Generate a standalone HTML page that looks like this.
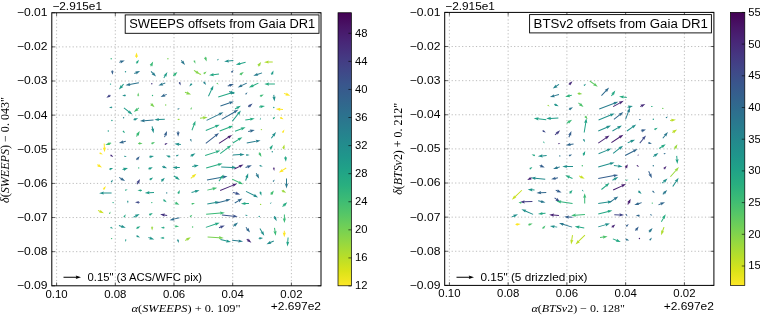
<!DOCTYPE html>
<html><head><meta charset="utf-8"><title>offsets</title>
<style>html,body{margin:0;padding:0;background:#fff;}body{width:760px;height:315px;overflow:hidden;}svg{display:block;will-change:transform;font-family:"Liberation Sans",sans-serif;}.m{font-family:"Liberation Serif",serif;}</style></head><body>
<svg width="760" height="315" viewBox="0 0 760 315">
<defs><linearGradient id="vg" x1="0" y1="0" x2="0" y2="1">
<stop offset="0.0000" stop-color="#440154"/>
<stop offset="0.0526" stop-color="#481567"/>
<stop offset="0.1053" stop-color="#482677"/>
<stop offset="0.1579" stop-color="#453781"/>
<stop offset="0.2105" stop-color="#404788"/>
<stop offset="0.2632" stop-color="#39568c"/>
<stop offset="0.3158" stop-color="#33638d"/>
<stop offset="0.3684" stop-color="#2d708e"/>
<stop offset="0.4211" stop-color="#287d8e"/>
<stop offset="0.4737" stop-color="#238a8d"/>
<stop offset="0.5263" stop-color="#1f968b"/>
<stop offset="0.5789" stop-color="#20a387"/>
<stop offset="0.6316" stop-color="#29af7f"/>
<stop offset="0.6842" stop-color="#3cbb75"/>
<stop offset="0.7368" stop-color="#55c667"/>
<stop offset="0.7895" stop-color="#73d055"/>
<stop offset="0.8421" stop-color="#95d840"/>
<stop offset="0.8947" stop-color="#b8de29"/>
<stop offset="0.9474" stop-color="#dce319"/>
<stop offset="1.0000" stop-color="#fde725"/>
</linearGradient></defs>
<rect width="760" height="315" fill="#fff"/>
<path d="M56.60 12.75V285.8M115.30 12.75V285.8M174.00 12.75V285.8M232.70 12.75V285.8M291.40 12.75V285.8M51.8 46.88H321.0M51.8 81.01H321.0M51.8 115.14H321.0M51.8 149.28H321.0M51.8 183.41H321.0M51.8 217.54H321.0M51.8 251.67H321.0" stroke="#6a6a6a" stroke-width="0.45" stroke-dasharray="1.2 2.27" fill="none"/>
<g><circle cx="111.2" cy="58.7" r="0.7" fill="#30b37c"/>
<polygon points="119.4,62.8 121.0,62.3 120.7,63.5 124.8,60.5 119.7,60.5 120.6,61.3 119.1,61.9" fill="#2f6b8e"/>
<polygon points="137.0,57.8 137.0,56.5 138.1,57.1 136.5,52.4 134.9,57.1 136.0,56.5 136.0,57.8" fill="#fde725"/>
<polygon points="136.9,63.7 137.5,62.7 137.8,63.7 138.9,59.7 135.6,62.2 136.7,62.2 136.0,63.1" fill="#24a884"/>
<polygon points="151.1,66.5 151.7,65.4 152.4,66.4 153.1,61.6 149.6,64.9 150.8,64.9 150.2,66.1" fill="#3aba76"/>
<circle cx="167.9" cy="58.7" r="0.7" fill="#7ad251"/>
<polygon points="180.9,60.8 182.0,62.1 180.7,62.3 185.0,65.1 183.3,60.4 182.8,61.5 181.7,60.1" fill="#2a788e"/>
<polygon points="193.6,60.7 193.9,61.5 193.2,61.1 195.5,63.7 195.1,60.3 194.8,61.0 194.5,60.2" fill="#4dc26b"/>
<polygon points="111.7,70.4 111.8,71.5 110.9,71.0 112.6,74.8 113.6,70.8 112.8,71.4 112.7,70.3" fill="#355f8d"/>
<circle cx="125.5" cy="71.7" r="0.7" fill="#21908c"/>
<polygon points="134.5,74.1 136.5,73.2 136.4,74.4 140.1,71.0 135.1,71.5 136.1,72.2 134.1,73.1" fill="#2a788e"/>
<polygon points="150.7,71.8 152.7,73.9 151.5,74.2 156.0,76.5 153.8,72.0 153.5,73.2 151.4,71.1" fill="#287d8e"/>
<polygon points="164.2,78.2 165.6,76.0 166.2,77.1 167.4,72.1 163.5,75.4 164.8,75.4 163.4,77.7" fill="#1f9c89"/>
<polygon points="173.6,76.2 174.6,75.3 174.9,76.5 177.4,72.1 172.8,74.1 174.0,74.5 172.9,75.4" fill="#30b37c"/>
<polygon points="193.7,70.8 196.2,72.4 195.1,73.0 200.0,74.3 196.9,70.4 196.8,71.6 194.3,70.0" fill="#87d549"/>
<polygon points="204.6,56.9 205.0,58.1 203.9,57.9 206.6,61.6 206.7,57.0 206.0,57.9 205.6,56.7" fill="#4dc26b"/>
<polygon points="217.6,60.5 218.0,60.2 217.7,60.7 219.0,58.7 216.8,59.7 217.4,59.4 216.9,59.8" fill="#21908c"/>
<polygon points="233.3,60.0 228.2,60.5 228.7,59.4 224.1,61.5 229.1,62.5 228.3,61.5 233.4,60.9" fill="#21908c"/>
<polygon points="245.5,61.7 239.7,63.3 240.0,62.0 235.8,64.8 240.8,65.1 240.0,64.2 245.7,62.7" fill="#20a387"/>
<polygon points="258.6,66.6 259.3,65.5 259.9,66.6 261.1,61.9 257.2,64.8 258.5,64.9 257.7,66.0" fill="#9ad93d"/>
<polygon points="272.7,61.4 268.2,61.6 268.7,60.4 264.0,62.2 268.8,63.6 268.2,62.6 272.8,62.4" fill="#aedc2f"/>
<polygon points="199.0,74.0 199.5,74.4 198.8,74.3 201.5,75.3 199.9,73.0 200.1,73.6 199.6,73.2" fill="#9ad93d"/>
<polygon points="204.0,74.3 204.7,73.7 204.7,74.5 206.6,71.4 203.2,72.8 204.1,72.9 203.3,73.5" fill="#6ece58"/>
<polygon points="218.9,73.4 213.1,74.2 213.6,73.1 209.1,75.3 214.0,76.2 213.3,75.2 219.1,74.4" fill="#24a884"/>
<polygon points="231.8,72.8 232.3,72.1 232.3,72.9 233.6,70.0 230.8,71.6 231.6,71.5 231.0,72.1" fill="#355f8d"/>
<polygon points="240.0,75.2 241.0,74.5 241.0,75.7 243.8,72.1 239.5,73.2 240.5,73.7 239.5,74.3" fill="#4dc26b"/>
<polygon points="261.9,72.4 257.1,74.0 257.4,72.8 253.3,75.8 258.4,75.8 257.5,74.9 262.2,73.3" fill="#287d8e"/>
<polygon points="272.0,75.0 272.5,73.9 273.1,74.8 273.5,70.4 270.5,73.7 271.6,73.5 271.1,74.6" fill="#1f9c89"/>
<circle cx="110.5" cy="84.1" r="0.7" fill="#1f9c89"/>
<polygon points="123.2,83.8 121.3,85.9 120.9,84.7 118.9,89.4 123.3,86.9 122.1,86.6 124.0,84.5" fill="#1f9c89"/>
<polygon points="138.8,82.2 129.5,84.0 129.9,82.8 125.5,85.3 130.5,85.9 129.7,85.0 139.0,83.2" fill="#2c738e"/>
<circle cx="151.8" cy="83.8" r="0.7" fill="#453480"/>
<polygon points="165.1,82.6 162.1,83.7 162.3,82.5 158.4,85.6 163.4,85.5 162.5,84.6 165.4,83.6" fill="#2a788e"/>
<polygon points="178.9,82.2 179.2,83.1 178.5,82.7 180.6,85.6 180.6,82.0 180.2,82.8 179.9,81.9" fill="#3f4a89"/>
<polygon points="191.6,83.2 190.9,83.9 190.8,83.0 189.3,86.5 192.6,84.6 191.7,84.6 192.3,83.9" fill="#21908c"/>
<polygon points="110.2,94.8 109.2,95.4 109.2,94.3 106.4,97.7 110.7,96.8 109.7,96.3 110.7,95.7" fill="#414487"/>
<polygon points="125.7,94.7 124.8,94.9 125.3,94.2 122.1,95.8 125.6,96.4 125.0,95.9 125.9,95.7" fill="#21908c"/>
<polygon points="138.7,96.3 138.7,95.3 139.3,95.9 138.2,92.6 137.1,95.9 137.7,95.3 137.7,96.3" fill="#5cc862"/>
<circle cx="152.5" cy="95.5" r="0.7" fill="#30b37c"/>
<polygon points="166.5,93.9 164.2,94.9 164.3,93.6 160.6,97.0 165.6,96.6 164.6,95.8 166.9,94.8" fill="#31678d"/>
<polygon points="184.8,92.8 187.0,93.5 186.0,94.4 191.1,94.4 187.0,91.3 187.3,92.6 185.1,91.8" fill="#87d549"/>
<polygon points="112.1,106.7 111.3,106.8 111.9,106.3 109.0,107.7 112.1,108.2 111.5,107.8 112.3,107.7" fill="#21908c"/>
<polygon points="123.6,108.3 128.7,112.3 127.6,112.8 132.4,114.5 129.6,110.3 129.4,111.6 124.2,107.6" fill="#1f9c89"/>
<polygon points="138.6,107.6 136.9,108.9 136.7,107.7 133.8,111.9 138.6,110.2 137.5,109.7 139.2,108.3" fill="#43be71"/>
<polygon points="150.3,103.9 151.3,104.8 150.1,105.2 154.6,107.2 152.3,102.9 152.0,104.1 151.0,103.2" fill="#7ad251"/>
<circle cx="165.7" cy="105.0" r="0.7" fill="#7ad251"/>
<polygon points="177.9,109.8 178.5,109.5 178.1,110.0 179.8,108.0 177.3,108.7 177.9,108.6 177.4,109.0" fill="#2a788e"/>
<polygon points="191.3,109.6 191.5,109.0 191.6,109.7 191.8,106.9 190.1,109.0 190.6,108.6 190.3,109.2" fill="#5cc862"/>
<polygon points="203.2,81.9 203.9,82.8 202.9,82.8 206.1,85.0 204.9,81.3 204.7,82.2 204.1,81.4" fill="#25848d"/>
<polygon points="216.5,83.5 217.0,83.9 216.4,83.7 218.7,84.6 217.2,82.5 217.6,83.1 217.1,82.7" fill="#5cc862"/>
<polygon points="227.9,86.5 230.0,85.9 229.8,87.1 233.9,84.1 228.8,84.0 229.7,84.9 227.6,85.6" fill="#355f8d"/>
<polygon points="246.5,82.7 241.3,85.2 241.3,84.0 237.7,87.5 242.7,86.8 241.7,86.1 247.0,83.6" fill="#2c738e"/>
<polygon points="258.2,82.7 252.5,85.3 252.6,84.0 248.9,87.5 254.0,86.9 253.0,86.2 258.6,83.6" fill="#27ac81"/>
<polygon points="274.9,83.6 268.5,83.6 269.1,82.5 264.3,84.1 269.1,85.7 268.5,84.6 274.9,84.6" fill="#27ac81"/>
<polygon points="208.9,96.5 212.1,89.6 212.9,90.6 213.4,85.6 210.0,89.3 211.2,89.2 208.0,96.0" fill="#1f9c89"/>
<polygon points="218.4,97.5 231.2,93.6 230.9,94.8 235.1,91.9 230.0,91.7 230.9,92.6 218.1,96.5" fill="#24a884"/>
<polygon points="229.0,91.9 230.8,92.7 229.7,93.5 234.8,94.1 231.1,90.6 231.2,91.8 229.4,91.0" fill="#238b8d"/>
<polygon points="246.0,94.7 246.4,94.1 246.3,94.8 247.5,92.2 245.0,93.7 245.7,93.5 245.2,94.0" fill="#2f6b8e"/>
<polygon points="260.1,96.7 261.1,96.2 260.9,97.2 263.8,94.4 259.8,94.9 260.7,95.3 259.7,95.8" fill="#3aba76"/>
<polygon points="273.3,94.9 273.5,97.3 272.4,96.8 274.5,101.4 275.6,96.4 274.5,97.1 274.3,94.7" fill="#21908c"/>
<polygon points="283.8,93.8 286.2,94.7 285.2,95.5 290.3,95.8 286.4,92.6 286.6,93.8 284.2,92.9" fill="#fde725"/>
<polygon points="220.6,106.5 230.1,103.2 229.9,104.5 233.9,101.4 228.8,101.4 229.8,102.3 220.3,105.6" fill="#2f6b8e"/>
<polygon points="235.3,109.4 237.5,108.2 237.5,109.5 240.9,105.8 235.9,106.7 237.0,107.3 234.8,108.5" fill="#20a387"/>
<polygon points="248.5,107.3 249.6,106.5 249.8,107.7 252.6,103.6 247.9,105.2 249.0,105.7 247.9,106.5" fill="#3b528b"/>
<polygon points="259.2,107.4 260.9,107.2 260.5,108.3 265.0,106.0 260.0,105.2 260.8,106.2 259.1,106.4" fill="#27ac81"/>
<circle cx="273.8" cy="107.5" r="0.7" fill="#1f9c89"/>
<polygon points="283.0,108.9 279.9,108.8 280.5,107.7 275.7,109.1 280.4,110.9 279.9,109.8 283.0,109.9" fill="#fde725"/>
<polygon points="200.1,118.7 203.5,118.2 203.1,119.4 207.6,117.2 202.6,116.2 203.4,117.2 199.9,117.7" fill="#9ad93d"/>
<polygon points="206.8,120.8 219.8,114.6 219.7,115.8 223.4,112.3 218.3,113.0 219.4,113.7 206.4,119.9" fill="#2a788e"/>
<polygon points="221.9,119.8 234.9,112.4 234.9,113.6 238.3,109.8 233.3,110.8 234.4,111.5 221.4,118.9" fill="#31678d"/>
<polygon points="232.8,121.4 238.7,114.0 239.2,115.2 240.9,110.4 236.7,113.2 237.9,113.4 232.0,120.8" fill="#1f9c89"/>
<polygon points="245.4,120.6 250.7,119.7 250.3,120.8 254.8,118.5 249.8,117.7 250.6,118.7 245.2,119.6" fill="#27ac81"/>
<polygon points="260.8,119.6 260.8,119.1 261.0,119.7 260.3,117.4 259.7,119.7 259.8,119.1 259.8,119.6" fill="#1f9c89"/>
<polygon points="273.4,119.3 274.0,118.7 273.8,119.4 275.2,116.7 272.5,118.1 273.2,118.0 272.7,118.6" fill="#24a884"/>
<polygon points="279.8,117.9 280.7,118.3 279.9,118.7 283.6,119.2 280.9,116.6 281.2,117.4 280.3,117.0" fill="#fde725"/>
<circle cx="111.9" cy="120.5" r="0.7" fill="#1f9c89"/>
<circle cx="123.6" cy="117.8" r="0.7" fill="#25848d"/>
<polygon points="133.7,120.2 134.9,119.9 134.6,121.0 138.2,118.3 133.7,118.2 134.6,118.9 133.4,119.3" fill="#21908c"/>
<polygon points="153.5,119.5 144.1,120.2 144.6,119.1 140.0,121.1 144.9,122.3 144.2,121.2 153.6,120.5" fill="#2c738e"/>
<polygon points="164.8,118.8 158.5,119.1 159.0,117.9 154.3,119.7 159.1,121.1 158.5,120.1 164.8,119.8" fill="#21908c"/>
<polygon points="177.8,120.1 178.4,119.9 177.9,120.4 180.3,119.0 177.6,118.8 178.2,119.0 177.6,119.1" fill="#9ad93d"/>
<polygon points="192.4,130.4 194.5,124.9 195.3,125.8 195.5,120.8 192.3,124.7 193.6,124.5 191.5,130.1" fill="#27ac81"/>
<circle cx="108.3" cy="131.0" r="0.7" fill="#1f9c89"/>
<polygon points="122.6,131.4 123.2,131.9 122.4,131.8 125.3,132.9 123.6,130.4 123.8,131.1 123.2,130.6" fill="#24a884"/>
<polygon points="136.9,136.8 138.0,134.9 138.7,135.9 139.7,131.0 135.9,134.3 137.1,134.4 136.0,136.3" fill="#3aba76"/>
<polygon points="151.6,126.4 152.2,129.2 151.0,128.8 153.6,133.2 154.1,128.2 153.2,129.0 152.6,126.2" fill="#21908c"/>
<polygon points="165.0,137.3 165.9,135.1 166.7,136.0 167.0,131.0 163.7,134.8 165.0,134.7 164.0,136.9" fill="#355f8d"/>
<polygon points="177.6,131.3 177.6,132.7 176.5,132.1 178.1,136.8 179.7,132.1 178.6,132.7 178.6,131.3" fill="#355f8d"/>
<polygon points="103.7,143.4 103.9,148.0 102.8,147.5 104.6,152.2 106.0,147.3 104.9,148.0 104.7,143.4" fill="#fde725"/>
<polygon points="111.0,142.5 109.2,143.1 109.4,141.9 105.3,144.9 110.4,144.9 109.5,144.0 111.3,143.4" fill="#43be71"/>
<polygon points="125.7,140.7 122.8,141.5 123.1,140.3 118.9,143.1 124.0,143.4 123.1,142.5 125.9,141.7" fill="#31678d"/>
<polygon points="138.2,143.9 139.3,143.9 138.7,144.7 142.6,143.4 138.7,142.1 139.3,142.9 138.2,142.9" fill="#5cc862"/>
<polygon points="151.6,144.3 152.5,143.8 152.3,144.7 155.0,141.9 151.2,142.6 152.0,142.9 151.1,143.4" fill="#4dc26b"/>
<polygon points="165.0,144.9 165.8,144.5 165.4,145.2 167.7,143.0 164.6,143.5 165.3,143.6 164.6,144.0" fill="#472b7a"/>
<polygon points="180.9,143.9 178.7,143.7 179.4,142.7 174.4,143.8 179.1,145.9 178.6,144.7 180.8,144.9" fill="#21908c"/>
<polygon points="190.0,139.2 190.3,139.9 189.7,139.5 191.5,141.9 191.4,138.9 191.2,139.6 191.0,138.9" fill="#2a788e"/>
<polygon points="99.3,153.5 100.1,153.8 99.4,154.1 102.9,154.5 100.2,152.1 100.5,152.9 99.7,152.6" fill="#fde725"/>
<polygon points="110.2,155.5 110.9,156.0 110.1,156.1 113.4,157.0 111.2,154.3 111.5,155.1 110.7,154.6" fill="#472b7a"/>
<polygon points="124.2,156.7 124.9,156.8 124.2,157.0 126.8,156.7 124.5,155.5 125.0,155.8 124.4,155.7" fill="#21908c"/>
<polygon points="136.8,160.2 137.6,159.3 138.0,160.4 139.7,156.2 135.8,158.5 136.9,158.6 136.1,159.5" fill="#355f8d"/>
<polygon points="149.3,157.4 150.5,157.2 150.1,158.3 154.0,155.9 149.5,155.4 150.3,156.2 149.1,156.5" fill="#1f958b"/>
<polygon points="170.5,156.5 169.4,156.1 170.3,155.5 166.0,155.5 169.4,158.1 169.1,157.1 170.2,157.4" fill="#1f958b"/>
<polygon points="176.4,156.4 177.1,156.1 176.7,156.7 179.1,154.8 176.0,155.0 176.7,155.2 176.0,155.5" fill="#21908c"/>
<polygon points="190.8,156.7 192.1,155.9 192.2,157.1 195.5,153.3 190.5,154.4 191.6,155.0 190.3,155.8" fill="#1f958b"/>
<polygon points="97.0,165.1 98.2,165.9 97.1,166.5 102.0,167.6 98.8,163.8 98.7,165.0 97.6,164.3" fill="#fde725"/>
<polygon points="109.5,169.8 110.4,169.5 110.1,170.4 113.1,167.9 109.2,168.1 110.1,168.5 109.1,168.9" fill="#1f9c89"/>
<polygon points="122.6,170.1 124.1,169.7 123.9,170.9 128.0,167.9 122.9,167.8 123.8,168.7 122.3,169.2" fill="#1f9c89"/>
<circle cx="138.7" cy="167.9" r="0.7" fill="#30b37c"/>
<polygon points="148.6,169.5 149.7,169.1 149.6,170.2 152.8,167.2 148.4,167.5 149.3,168.1 148.2,168.6" fill="#1f9c89"/>
<polygon points="162.1,166.9 163.4,167.4 162.4,168.1 167.1,168.2 163.5,165.2 163.7,166.4 162.5,166.0" fill="#21908c"/>
<polygon points="179.8,167.1 176.7,167.1 177.3,166.0 172.5,167.6 177.3,169.2 176.7,168.1 179.8,168.1" fill="#1f958b"/>
<polygon points="192.3,166.9 194.8,166.5 194.4,167.7 198.8,165.3 193.8,164.5 194.6,165.5 192.2,166.0" fill="#1f958b"/>
<polygon points="111.6,182.5 112.0,181.9 112.1,182.6 112.9,179.6 110.5,181.5 111.2,181.3 110.8,182.0" fill="#238b8d"/>
<polygon points="119.0,177.8 121.2,179.3 120.1,179.9 125.1,181.1 121.8,177.2 121.8,178.4 119.5,177.0" fill="#31678d"/>
<polygon points="137.5,184.5 138.4,182.8 139.1,183.9 140.0,178.9 136.3,182.3 137.5,182.3 136.6,184.0" fill="#414487"/>
<polygon points="149.9,180.3 150.8,179.7 150.7,180.7 153.1,177.4 149.3,178.6 150.2,178.9 149.3,179.5" fill="#1f9c89"/>
<polygon points="161.6,181.7 162.5,180.8 162.8,182.0 164.8,177.8 160.7,179.8 161.8,180.1 160.9,181.0" fill="#1f958b"/>
<polygon points="173.7,176.4 176.1,178.0 175.0,178.5 179.8,179.9 176.8,175.9 176.6,177.1 174.3,175.5" fill="#1f9c89"/>
<polygon points="191.1,178.8 193.5,176.8 193.7,178.1 196.4,173.8 191.7,175.6 192.8,176.1 190.5,178.0" fill="#f0e520"/>
<polygon points="103.9,189.8 104.4,188.9 104.7,189.9 105.8,186.1 102.7,188.5 103.6,188.4 103.0,189.2" fill="#fde725"/>
<polygon points="111.6,192.4 103.2,192.6 103.8,191.4 99.1,193.2 103.9,194.6 103.3,193.6 111.6,193.4" fill="#21908c"/>
<polygon points="125.2,190.7 125.9,190.5 125.4,191.0 127.7,189.5 124.9,189.4 125.6,189.6 124.9,189.7" fill="#24a884"/>
<polygon points="141.9,190.0 140.8,189.9 141.5,189.2 137.5,190.2 141.3,191.8 140.7,190.9 141.8,191.0" fill="#24a884"/>
<polygon points="154.0,191.9 149.0,192.2 149.5,191.0 144.8,192.9 149.7,194.2 149.0,193.2 154.0,192.9" fill="#1f9c89"/>
<circle cx="166.7" cy="192.9" r="0.7" fill="#287d8e"/>
<polygon points="178.5,194.1 179.0,193.1 179.5,194.0 179.8,189.9 177.1,192.9 178.1,192.7 177.6,193.7" fill="#27ac81"/>
<polygon points="191.7,192.9 195.6,191.8 195.4,193.0 199.6,190.2 194.5,189.9 195.4,190.9 191.4,191.9" fill="#1f958b"/>
<circle cx="113.1" cy="202.6" r="0.7" fill="#24a884"/>
<polygon points="127.2,200.8 127.3,201.5 126.9,200.9 128.0,203.4 128.5,200.7 128.3,201.3 128.2,200.7" fill="#21908c"/>
<polygon points="139.7,201.9 138.5,201.8 139.1,200.9 135.0,202.2 139.1,203.7 138.5,202.8 139.7,202.8" fill="#3f4a89"/>
<circle cx="151.8" cy="202.6" r="0.7" fill="#30b37c"/>
<polygon points="163.0,200.1 163.9,200.7 163.0,201.0 166.7,202.2 164.4,199.0 164.5,199.9 163.6,199.3" fill="#24a884"/>
<polygon points="174.5,203.1 175.7,203.6 174.7,204.3 179.4,204.8 176.0,201.5 176.1,202.7 174.9,202.2" fill="#3aba76"/>
<polygon points="191.7,204.6 192.5,204.3 192.1,205.0 194.9,203.1 191.5,203.0 192.2,203.4 191.4,203.6" fill="#43be71"/>
<polygon points="97.8,210.8 99.9,211.9 98.9,212.6 103.9,213.3 100.3,209.7 100.3,211.0 98.3,209.9" fill="#c9e021"/>
<polygon points="109.9,214.1 110.1,213.5 110.2,214.1 110.5,211.4 108.7,213.5 109.2,213.1 109.0,213.7" fill="#43be71"/>
<polygon points="124.3,217.5 124.8,216.8 124.9,217.6 125.8,214.3 123.2,216.5 123.9,216.2 123.5,217.0" fill="#24a884"/>
<polygon points="133.8,217.7 136.2,216.3 136.2,217.6 139.7,213.9 134.7,214.8 135.7,215.5 133.3,216.8" fill="#1f958b"/>
<polygon points="149.4,215.5 150.3,214.9 150.2,215.9 152.8,212.9 148.9,213.7 149.8,214.1 148.9,214.6" fill="#24a884"/>
<polygon points="167.2,215.0 164.3,214.5 165.1,213.5 160.1,214.3 164.6,216.7 164.2,215.5 167.1,216.0" fill="#453480"/>
<polygon points="179.3,217.2 173.6,218.7 173.9,217.4 169.6,220.2 174.7,220.5 173.8,219.6 179.5,218.2" fill="#2f6b8e"/>
<polygon points="190.4,217.2 191.0,216.7 190.8,217.4 192.3,214.8 189.6,216.1 190.3,215.9 189.7,216.5" fill="#43be71"/>
<polygon points="110.3,227.9 110.9,228.1 110.2,228.2 113.1,228.4 110.9,226.6 111.3,227.2 110.6,226.9" fill="#1f9c89"/>
<polygon points="118.8,226.0 121.6,226.9 120.7,227.8 125.8,227.7 121.7,224.7 121.9,225.9 119.1,225.0" fill="#21908c"/>
<polygon points="136.7,228.9 137.7,228.3 137.6,229.3 140.4,226.2 136.3,227.0 137.2,227.4 136.2,228.0" fill="#24a884"/>
<polygon points="151.6,226.5 151.6,227.5 150.9,226.9 152.1,230.6 153.3,226.9 152.6,227.5 152.6,226.5" fill="#9ad93d"/>
<polygon points="164.5,227.2 163.6,227.2 164.2,226.6 160.8,227.7 164.2,228.8 163.6,228.2 164.5,228.2" fill="#24a884"/>
<polygon points="174.7,226.7 175.8,226.8 175.1,227.6 179.1,226.5 175.3,224.9 175.9,225.8 174.8,225.7" fill="#3aba76"/>
<circle cx="192.6" cy="227.0" r="0.7" fill="#4dc26b"/>
<circle cx="111.6" cy="238.6" r="0.7" fill="#3aba76"/>
<polygon points="125.3,239.3 125.2,240.0 125.0,239.3 125.5,242.0 126.6,239.5 126.2,240.1 126.3,239.4" fill="#1f9c89"/>
<polygon points="136.2,236.2 137.1,236.6 136.2,237.0 140.0,237.6 137.4,234.9 137.6,235.8 136.7,235.3" fill="#1f958b"/>
<polygon points="148.3,238.1 150.1,238.6 149.2,239.5 154.3,239.4 150.1,236.5 150.4,237.7 148.6,237.1" fill="#1f958b"/>
<polygon points="164.2,237.4 163.2,237.4 163.8,236.7 160.1,237.9 163.8,239.1 163.2,238.4 164.2,238.4" fill="#20a387"/>
<polygon points="177.2,239.5 177.4,240.4 176.7,240.0 178.7,243.0 178.9,239.4 178.4,240.2 178.1,239.2" fill="#238b8d"/>
<polygon points="185.5,241.0 187.5,239.8 187.5,241.0 190.8,237.2 185.9,238.3 186.9,238.9 185.0,240.1" fill="#9ad93d"/>
<polygon points="206.0,131.0 216.0,126.8 215.9,128.1 219.7,124.7 214.7,125.1 215.7,125.9 205.6,130.1" fill="#24a884"/>
<polygon points="219.9,131.5 229.6,127.7 229.4,129.0 233.3,125.8 228.3,126.0 229.2,126.8 219.5,130.5" fill="#27ac81"/>
<polygon points="235.2,131.8 241.8,129.2 241.7,130.4 245.6,127.2 240.5,127.5 241.5,128.3 234.9,130.8" fill="#27ac81"/>
<polygon points="248.3,132.1 250.8,131.5 250.4,132.7 254.8,130.1 249.7,129.6 250.6,130.6 248.1,131.1" fill="#31678d"/>
<circle cx="261.4" cy="129.6" r="0.7" fill="#9ad93d"/>
<polygon points="271.7,138.6 273.9,135.7 274.4,136.8 276.0,132.0 271.8,134.9 273.1,135.1 270.9,138.0" fill="#21908c"/>
<polygon points="283.0,133.0 283.4,132.2 283.7,133.1 284.4,129.6 281.7,131.9 282.6,131.7 282.1,132.5" fill="#fde725"/>
<polygon points="206.1,143.7 216.0,136.0 216.2,137.3 219.0,133.1 214.2,134.7 215.4,135.2 205.5,142.9" fill="#355f8d"/>
<polygon points="219.3,143.7 228.9,137.6 228.9,138.9 232.1,135.0 227.2,136.2 228.3,136.8 218.7,142.9" fill="#481e6f"/>
<polygon points="233.1,143.4 239.1,139.8 239.1,141.0 242.4,137.2 237.4,138.3 238.5,138.9 232.6,142.6" fill="#27ac81"/>
<polygon points="246.8,143.5 256.6,141.6 256.2,142.8 260.6,140.4 255.6,139.7 256.4,140.7 246.7,142.5" fill="#287d8e"/>
<polygon points="270.5,149.4 271.2,148.3 271.8,149.3 272.8,144.8 269.2,147.8 270.3,147.8 269.7,148.9" fill="#24a884"/>
<polygon points="283.8,149.3 284.0,148.1 284.8,148.9 284.4,144.4 282.0,148.2 283.1,147.8 282.8,149.0" fill="#aedc2f"/>
<polygon points="205.3,155.9 216.6,152.3 216.4,153.6 220.4,150.6 215.4,150.5 216.3,151.4 205.0,154.9" fill="#27ac81"/>
<polygon points="220.5,154.1 228.4,148.1 228.5,149.3 231.4,145.2 226.6,146.8 227.8,147.3 219.9,153.3" fill="#27ac81"/>
<polygon points="232.9,155.5 240.4,155.1 239.8,156.2 244.6,154.4 239.7,153.0 240.3,154.1 232.8,154.5" fill="#238b8d"/>
<polygon points="246.0,155.5 246.9,155.5 246.3,156.1 249.7,155.0 246.3,153.9 246.9,154.5 246.0,154.5" fill="#21908c"/>
<polygon points="258.7,152.7 259.3,153.8 258.1,153.7 261.4,156.9 260.8,152.4 260.2,153.4 259.6,152.3" fill="#43be71"/>
<circle cx="272.3" cy="151.8" r="0.7" fill="#21908c"/>
<polygon points="285.0,156.5 285.1,157.8 283.9,157.3 285.9,161.7 287.1,157.0 286.1,157.7 286.0,156.4" fill="#24a884"/>
<polygon points="206.3,168.4 218.7,165.1 218.4,166.3 222.6,163.6 217.6,163.2 218.5,164.1 206.0,167.4" fill="#27ac81"/>
<polygon points="221.2,167.6 232.3,167.9 231.7,169.0 236.5,167.5 231.8,165.8 232.3,166.9 221.2,166.6" fill="#21908c"/>
<polygon points="234.5,169.4 240.0,166.8 239.9,168.1 243.5,164.6 238.5,165.2 239.5,165.9 234.1,168.5" fill="#482475"/>
<polygon points="245.7,168.0 248.1,167.2 247.9,168.4 251.9,165.3 246.8,165.4 247.7,166.2 245.4,167.0" fill="#355f8d"/>
<polygon points="259.5,166.1 260.3,166.3 259.6,166.6 262.8,166.5 260.1,164.7 260.5,165.3 259.7,165.1" fill="#21908c"/>
<polygon points="273.3,167.6 273.4,168.4 272.8,167.9 274.2,170.9 274.8,167.6 274.4,168.3 274.3,167.4" fill="#482475"/>
<polygon points="285.9,167.5 282.2,169.9 282.1,168.7 278.9,172.6 283.8,171.4 282.7,170.8 286.5,168.4" fill="#fde725"/>
<polygon points="207.1,180.4 223.4,177.5 223.0,178.7 227.5,176.3 222.5,175.5 223.2,176.5 206.9,179.4" fill="#2f6b8e"/>
<polygon points="219.4,181.4 221.7,178.1 222.2,179.2 223.7,174.4 219.6,177.4 220.9,177.5 218.6,180.8" fill="#24a884"/>
<polygon points="231.9,179.6 239.1,183.0 238.1,183.7 243.1,184.3 239.4,180.8 239.5,182.1 232.4,178.7" fill="#3aba76"/>
<polygon points="246.1,180.8 247.3,177.5 248.1,178.4 248.2,173.3 245.1,177.3 246.3,177.1 245.1,180.5" fill="#1f958b"/>
<polygon points="255.8,173.6 256.7,175.3 255.5,175.3 259.2,178.8 258.3,173.8 257.6,174.8 256.7,173.1" fill="#2a788e"/>
<polygon points="273.4,182.0 273.9,181.5 273.7,182.1 274.8,179.6 272.5,181.1 273.1,180.8 272.7,181.3" fill="#2a788e"/>
<polygon points="286.0,178.4 286.0,184.2 284.9,183.6 286.5,188.4 288.1,183.6 287.0,184.2 287.0,178.4" fill="#2a788e"/>
<polygon points="207.4,190.6 213.3,189.2 213.0,190.4 217.2,187.7 212.2,187.3 213.0,188.2 207.2,189.7" fill="#43be71"/>
<polygon points="220.3,190.9 233.5,185.6 233.4,186.8 237.2,183.6 232.2,183.9 233.2,184.7 220.0,190.0" fill="#482475"/>
<polygon points="232.7,192.8 236.0,193.8 235.1,194.7 240.2,194.5 236.0,191.6 236.3,192.8 233.0,191.9" fill="#3b528b"/>
<polygon points="245.8,191.8 254.2,196.0 253.1,196.7 258.1,197.4 254.6,193.8 254.6,195.1 246.2,190.9" fill="#238b8d"/>
<polygon points="259.7,191.7 260.0,192.8 259.1,192.4 261.4,195.7 261.5,191.7 261.0,192.5 260.7,191.5" fill="#1f9c89"/>
<polygon points="271.3,195.1 272.0,194.0 272.6,195.1 273.8,190.4 269.9,193.3 271.2,193.4 270.4,194.5" fill="#43be71"/>
<polygon points="281.6,190.9 282.7,191.5 281.7,192.0 286.2,192.8 283.1,189.4 283.1,190.6 282.0,190.0" fill="#9ad93d"/>
<polygon points="207.4,204.5 215.7,203.1 215.2,204.3 219.7,201.9 214.7,201.1 215.5,202.1 207.2,203.5" fill="#21908c"/>
<polygon points="216.9,203.4 226.7,200.9 226.4,202.1 230.7,199.3 225.6,199.0 226.5,199.9 216.7,202.5" fill="#2f6b8e"/>
<polygon points="235.0,203.4 239.0,201.1 239.0,202.4 242.4,198.6 237.4,199.6 238.5,200.2 234.5,202.5" fill="#31678d"/>
<polygon points="248.9,202.9 245.1,203.0 245.6,201.9 240.9,203.7 245.8,205.1 245.1,204.0 249.0,203.9" fill="#24a884"/>
<circle cx="260.6" cy="204.4" r="0.7" fill="#9ad93d"/>
<polygon points="270.3,203.8 270.8,203.6 270.3,204.0 271.9,202.5 269.8,202.9 270.3,202.7 269.9,203.0" fill="#21908c"/>
<polygon points="282.9,207.0 284.5,205.5 284.8,206.7 287.2,202.2 282.6,204.3 283.8,204.7 282.2,206.2" fill="#27ac81"/>
<polygon points="206.2,214.7 220.7,213.6 220.2,214.7 224.8,212.8 219.9,211.5 220.6,212.6 206.1,213.7" fill="#3aba76"/>
<polygon points="221.9,215.6 233.5,216.7 232.8,217.7 237.7,216.5 233.1,214.5 233.6,215.7 222.0,214.6" fill="#3b528b"/>
<polygon points="245.4,215.5 246.0,215.8 245.3,215.8 247.9,216.1 245.9,214.4 246.4,214.9 245.8,214.6" fill="#21908c"/>
<circle cx="259.2" cy="216.5" r="0.7" fill="#21908c"/>
<polygon points="273.8,216.3 274.4,217.7 273.2,217.6 276.7,221.2 276.0,216.2 275.3,217.2 274.7,215.9" fill="#21908c"/>
<polygon points="283.9,214.6 283.9,218.8 282.8,218.2 284.4,223.0 286.0,218.2 284.9,218.8 284.9,214.6" fill="#3aba76"/>
<polygon points="206.0,227.8 215.9,224.5 215.7,225.7 219.7,222.7 214.7,222.7 215.6,223.5 205.7,226.9" fill="#24a884"/>
<polygon points="219.2,228.3 221.1,227.5 220.9,228.8 224.8,225.6 219.8,225.8 220.7,226.6 218.8,227.3" fill="#3f4a89"/>
<polygon points="233.6,226.7 235.1,225.5 235.3,226.7 238.0,222.4 233.3,224.3 234.4,224.7 233.0,225.9" fill="#2a788e"/>
<polygon points="245.6,227.6 247.0,229.5 245.8,229.7 250.0,232.6 248.4,227.8 247.8,228.9 246.4,227.1" fill="#31678d"/>
<polygon points="259.5,228.8 261.7,232.5 260.4,232.5 264.3,235.8 263.2,230.9 262.6,232.0 260.3,228.3" fill="#21908c"/>
<polygon points="274.0,227.9 274.6,231.7 273.4,231.3 275.7,235.8 276.6,230.8 275.6,231.6 275.0,227.7" fill="#3aba76"/>
<polygon points="283.8,230.7 283.8,233.1 282.7,232.5 284.3,237.3 285.9,232.5 284.8,233.1 284.8,230.7" fill="#fde725"/>
<polygon points="207.6,237.5 219.4,238.2 218.8,239.3 223.7,238.0 219.0,236.1 219.5,237.2 207.6,236.5" fill="#7ad251"/>
<polygon points="220.3,239.9 226.8,241.5 225.9,242.5 231.0,242.1 226.7,239.4 227.0,240.6 220.6,239.0" fill="#1f958b"/>
<polygon points="232.1,240.7 238.9,241.6 238.1,242.6 243.1,241.6 238.6,239.4 239.0,240.6 232.2,239.7" fill="#287d8e"/>
<polygon points="246.4,239.5 247.8,240.6 246.7,241.1 251.4,242.8 248.6,238.6 248.4,239.8 247.1,238.8" fill="#472b7a"/>
<polygon points="258.8,238.9 259.9,238.8 259.4,239.7 263.1,238.0 259.1,237.1 259.8,237.8 258.7,237.9" fill="#21908c"/>
<polygon points="273.6,240.4 270.1,242.1 270.2,240.8 266.5,244.3 271.5,243.7 270.5,243.0 274.0,241.4" fill="#238b8d"/>
<polygon points="287.6,237.4 287.2,242.2 286.2,241.5 287.4,246.4 289.3,241.8 288.2,242.3 288.6,237.4" fill="#20a387"/></g>
<path d="M56.60 285.8v-3.3M56.60 12.75v3.3M115.30 285.8v-3.3M115.30 12.75v3.3M174.00 285.8v-3.3M174.00 12.75v3.3M232.70 285.8v-3.3M232.70 12.75v3.3M291.40 285.8v-3.3M291.40 12.75v3.3M51.8 12.75h3.3M321.0 12.75h-3.3M51.8 46.88h3.3M321.0 46.88h-3.3M51.8 81.01h3.3M321.0 81.01h-3.3M51.8 115.14h3.3M321.0 115.14h-3.3M51.8 149.28h3.3M321.0 149.28h-3.3M51.8 183.41h3.3M321.0 183.41h-3.3M51.8 217.54h3.3M321.0 217.54h-3.3M51.8 251.67h3.3M321.0 251.67h-3.3M51.8 285.80h3.3M321.0 285.80h-3.3" stroke="#000" stroke-width="0.6" fill="none"/>
<rect x="51.8" y="12.75" width="269.2" height="273.05" fill="none" stroke="#000" stroke-width="1"/>
<text x="47.5" y="16.15" font-size="10.8" text-anchor="end" textLength="30.6" lengthAdjust="spacingAndGlyphs">−0.01</text>
<text x="47.5" y="50.28" font-size="10.8" text-anchor="end" textLength="30.6" lengthAdjust="spacingAndGlyphs">−0.02</text>
<text x="47.5" y="84.41" font-size="10.8" text-anchor="end" textLength="30.6" lengthAdjust="spacingAndGlyphs">−0.03</text>
<text x="47.5" y="118.54" font-size="10.8" text-anchor="end" textLength="30.6" lengthAdjust="spacingAndGlyphs">−0.04</text>
<text x="47.5" y="152.68" font-size="10.8" text-anchor="end" textLength="30.6" lengthAdjust="spacingAndGlyphs">−0.05</text>
<text x="47.5" y="186.81" font-size="10.8" text-anchor="end" textLength="30.6" lengthAdjust="spacingAndGlyphs">−0.06</text>
<text x="47.5" y="220.94" font-size="10.8" text-anchor="end" textLength="30.6" lengthAdjust="spacingAndGlyphs">−0.07</text>
<text x="47.5" y="255.07" font-size="10.8" text-anchor="end" textLength="30.6" lengthAdjust="spacingAndGlyphs">−0.08</text>
<text x="47.5" y="289.20" font-size="10.8" text-anchor="end" textLength="30.6" lengthAdjust="spacingAndGlyphs">−0.09</text>
<text x="56.60" y="297.70" font-size="10.8" text-anchor="middle" textLength="22.2" lengthAdjust="spacingAndGlyphs">0.10</text>
<text x="115.30" y="297.70" font-size="10.8" text-anchor="middle" textLength="22.2" lengthAdjust="spacingAndGlyphs">0.08</text>
<text x="174.00" y="297.70" font-size="10.8" text-anchor="middle" textLength="22.2" lengthAdjust="spacingAndGlyphs">0.06</text>
<text x="232.70" y="297.70" font-size="10.8" text-anchor="middle" textLength="22.2" lengthAdjust="spacingAndGlyphs">0.04</text>
<text x="291.40" y="297.70" font-size="10.8" text-anchor="middle" textLength="22.2" lengthAdjust="spacingAndGlyphs">0.02</text>
<text x="52.4" y="10.3" font-size="10.8" text-anchor="start" textLength="49.6" lengthAdjust="spacingAndGlyphs">−2.915e1</text>
<text x="321.0" y="310.4" font-size="10.8" text-anchor="end" textLength="50.2" lengthAdjust="spacingAndGlyphs">+2.697e2</text>
<rect x="125.2" y="14.9" width="193.80" height="18.40" fill="#fff" stroke="#000" stroke-width="0.9"/>
<text x="129.2" y="28.4" font-size="13.7" text-anchor="start" textLength="186" lengthAdjust="spacingAndGlyphs">SWEEPS offsets from Gaia DR1</text>
<path d="M63.5 276.75H76.4L75.7 275.6L81 277.3L75.7 279.0L76.4 277.85H63.5Z" fill="#000"/>
<text x="87.5" y="280.8" font-size="11.5" text-anchor="start" textLength="114.6" lengthAdjust="spacingAndGlyphs">0.15" (3 ACS/WFC pix)</text>
<text class="m" x="186.1" y="312.3" font-size="10.5" text-anchor="middle" textLength="109" lengthAdjust="spacingAndGlyphs"><tspan font-style="italic">α</tspan>(<tspan font-style="italic">SWEEPS</tspan>) + 0. 109"</text>
<text class="m" transform="translate(8.6,150) rotate(-90)" font-size="12" text-anchor="middle" textLength="106" lengthAdjust="spacingAndGlyphs"><tspan font-style="italic">δ</tspan>(<tspan font-style="italic">SWEEPS</tspan>) − 0. 043"</text>
<rect x="338.0" y="12.75" width="13.40" height="273.05" fill="url(#vg)" stroke="#000" stroke-width="0.7"/>
<text x="354.9" y="289.40" font-size="10.8" text-anchor="start" textLength="12.5" lengthAdjust="spacingAndGlyphs">12</text>
<text x="354.9" y="261.32" font-size="10.8" text-anchor="start" textLength="12.5" lengthAdjust="spacingAndGlyphs">16</text>
<text x="354.9" y="233.24" font-size="10.8" text-anchor="start" textLength="12.5" lengthAdjust="spacingAndGlyphs">20</text>
<text x="354.9" y="205.16" font-size="10.8" text-anchor="start" textLength="12.5" lengthAdjust="spacingAndGlyphs">24</text>
<text x="354.9" y="177.08" font-size="10.8" text-anchor="start" textLength="12.5" lengthAdjust="spacingAndGlyphs">28</text>
<text x="354.9" y="149.00" font-size="10.8" text-anchor="start" textLength="12.5" lengthAdjust="spacingAndGlyphs">32</text>
<text x="354.9" y="120.92" font-size="10.8" text-anchor="start" textLength="12.5" lengthAdjust="spacingAndGlyphs">36</text>
<text x="354.9" y="92.84" font-size="10.8" text-anchor="start" textLength="12.5" lengthAdjust="spacingAndGlyphs">40</text>
<text x="354.9" y="64.76" font-size="10.8" text-anchor="start" textLength="12.5" lengthAdjust="spacingAndGlyphs">44</text>
<text x="354.9" y="36.68" font-size="10.8" text-anchor="start" textLength="12.5" lengthAdjust="spacingAndGlyphs">48</text>
<path d="M351.4 286.00h-3M351.4 257.92h-3M351.4 229.84h-3M351.4 201.76h-3M351.4 173.68h-3M351.4 145.60h-3M351.4 117.52h-3M351.4 89.44h-3M351.4 61.36h-3M351.4 33.28h-3" stroke="#000" stroke-width="0.6" fill="none"/>
<path d="M449.40 12.4V285.4M508.15 12.4V285.4M566.90 12.4V285.4M625.65 12.4V285.4M684.40 12.4V285.4M444.7 46.52H713.9M444.7 80.65H713.9M444.7 114.78H713.9M444.7 148.90H713.9M444.7 183.03H713.9M444.7 217.15H713.9M444.7 251.28H713.9" stroke="#6a6a6a" stroke-width="0.45" stroke-dasharray="1.2 2.27" fill="none"/>
<g><polygon points="558.7,83.9 555.9,85.8 555.8,84.5 552.8,88.6 557.7,87.2 556.5,86.6 559.3,84.7" fill="#25848d"/>
<polygon points="569.2,85.1 570.1,84.2 570.4,85.4 572.5,81.3 568.4,83.2 569.5,83.5 568.6,84.3" fill="#472b7a"/>
<polygon points="584.3,86.1 584.8,85.6 584.6,86.3 586.0,83.8 583.4,85.0 584.1,84.9 583.6,85.4" fill="#1f958b"/>
<polygon points="589.5,81.5 594.1,84.7 593.0,85.3 597.8,86.8 594.8,82.7 594.7,83.9 590.1,80.6" fill="#5cc862"/>
<polygon points="558.8,94.0 553.8,95.4 554.1,94.2 549.9,97.0 555.0,97.2 554.1,96.3 559.1,95.0" fill="#2a788e"/>
<polygon points="571.7,94.7 569.2,95.3 569.6,94.1 565.2,96.7 570.3,97.2 569.4,96.3 571.9,95.7" fill="#30b37c"/>
<polygon points="577.6,94.0 578.8,94.1 578.1,94.9 582.3,94.0 578.4,92.1 578.9,93.1 577.7,93.0" fill="#87d549"/>
<polygon points="547.4,105.5 547.9,105.9 547.3,105.7 549.6,106.6 548.1,104.6 548.5,105.1 548.0,104.8" fill="#9ad93d"/>
<polygon points="554.1,104.7 555.2,105.2 554.3,105.8 558.7,106.2 555.4,103.2 555.6,104.3 554.5,103.8" fill="#1f958b"/>
<polygon points="569.1,110.0 570.1,109.4 570.0,110.5 573.0,107.3 568.7,108.0 569.7,108.5 568.7,109.1" fill="#2a788e"/>
<polygon points="578.1,103.2 579.9,104.7 578.8,105.2 583.5,106.9 580.8,102.7 580.5,103.9 578.7,102.4" fill="#4dc26b"/>
<polygon points="601.8,96.0 606.5,91.0 606.9,92.2 609.1,87.6 604.6,90.0 605.8,90.3 601.1,95.3" fill="#2f6b8e"/>
<polygon points="611.8,96.2 613.3,94.2 613.8,95.4 615.3,90.5 611.2,93.5 612.5,93.6 611.0,95.7" fill="#24a884"/>
<polygon points="626.8,96.9 623.2,96.4 624.0,95.4 619.0,96.4 623.5,98.6 623.1,97.4 626.7,97.9" fill="#27ac81"/>
<polygon points="599.4,109.4 614.5,103.7 614.3,105.0 618.3,101.8 613.2,102.0 614.2,102.8 599.1,108.5" fill="#287d8e"/>
<polygon points="613.4,107.0 620.2,103.2 620.2,104.5 623.7,100.8 618.7,101.7 619.8,102.4 612.9,106.2" fill="#482475"/>
<polygon points="640.4,107.1 641.8,106.3 641.8,107.6 645.3,104.0 640.3,104.8 641.3,105.5 640.0,106.2" fill="#472b7a"/>
<polygon points="651.1,107.0 651.7,107.0 651.1,107.1 653.3,106.5 651.1,105.8 651.7,106.0 651.1,106.0" fill="#27ac81"/>
<circle cx="662.8" cy="108.4" r="0.7" fill="#6ece58"/>
<polygon points="546.3,119.3 538.1,118.3 538.8,117.3 533.8,118.3 538.4,120.5 537.9,119.3 546.2,120.3" fill="#20a387"/>
<polygon points="558.3,117.4 550.4,117.9 550.9,116.7 546.2,118.6 551.1,119.9 550.5,118.9 558.4,118.4" fill="#1f9c89"/>
<polygon points="567.0,123.7 568.8,122.5 568.9,123.7 572.1,119.8 567.2,121.0 568.3,121.6 566.4,122.9" fill="#3aba76"/>
<polygon points="584.7,132.6 586.3,122.5 587.3,123.3 586.4,118.3 584.1,122.8 585.3,122.4 583.7,132.4" fill="#20a387"/>
<polygon points="584.6,116.3 585.2,117.1 584.2,117.1 587.6,119.3 586.3,115.6 586.0,116.5 585.4,115.7" fill="#5cc862"/>
<polygon points="542.3,131.0 543.1,131.5 542.3,131.7 545.8,132.5 543.4,129.8 543.6,130.6 542.8,130.2" fill="#3f4a89"/>
<polygon points="555.3,135.3 557.4,133.5 557.7,134.7 560.1,130.3 555.5,132.4 556.7,132.8 554.7,134.6" fill="#433e84"/>
<polygon points="569.4,137.5 570.3,135.1 571.1,136.1 571.4,131.0 568.1,134.9 569.4,134.8 568.4,137.1" fill="#355f8d"/>
<polygon points="542.9,142.0 543.3,142.4 542.8,142.1 544.8,143.4 543.8,141.2 544.1,141.8 543.7,141.4" fill="#24a884"/>
<polygon points="558.5,144.2 559.0,144.1 558.5,144.4 560.4,143.2 558.1,143.1 558.7,143.1 558.2,143.3" fill="#482475"/>
<polygon points="573.5,143.4 570.0,144.0 570.4,142.8 566.0,145.2 571.0,146.0 570.2,145.0 573.6,144.4" fill="#31678d"/>
<polygon points="583.0,139.3 583.4,140.1 582.7,139.8 585.0,142.3 584.6,138.9 584.3,139.7 584.0,138.9" fill="#21908c"/>
<polygon points="598.7,120.5 610.9,115.6 610.8,116.8 614.6,113.5 609.6,113.8 610.5,114.6 598.4,119.6" fill="#21908c"/>
<polygon points="614.2,119.7 620.3,115.0 620.5,116.2 623.4,112.0 618.6,113.7 619.7,114.2 613.6,118.9" fill="#31678d"/>
<polygon points="626.0,119.5 628.9,111.8 629.8,112.7 630.0,107.7 626.8,111.6 628.0,111.4 625.1,119.2" fill="#287d8e"/>
<polygon points="627.6,107.8 628.9,107.5 628.6,108.7 632.9,106.0 627.9,105.6 628.7,106.5 627.4,106.9" fill="#21908c"/>
<polygon points="639.3,120.2 639.9,120.0 639.4,120.4 641.2,118.9 638.8,119.2 639.5,119.1 639.0,119.3" fill="#2f6b8e"/>
<circle cx="653.3" cy="119.3" r="0.7" fill="#1f9c89"/>
<polygon points="666.3,118.3 666.8,117.9 666.5,118.5 667.9,116.4 665.6,117.3 666.2,117.1 665.7,117.5" fill="#287d8e"/>
<polygon points="670.2,120.9 671.8,120.7 671.4,121.8 676.0,119.8 671.0,118.7 671.7,119.7 670.1,119.9" fill="#bcde27"/>
<polygon points="598.4,131.5 607.3,127.7 607.2,129.0 611.0,125.6 605.9,126.0 606.9,126.8 598.1,130.6" fill="#21908c"/>
<polygon points="612.7,131.5 618.5,128.1 618.5,129.4 621.9,125.6 616.9,126.6 618.0,127.3 612.2,130.6" fill="#21908c"/>
<polygon points="627.3,131.4 633.1,127.3 633.3,128.5 636.2,124.5 631.4,125.9 632.5,126.5 626.7,130.6" fill="#21908c"/>
<polygon points="641.0,131.5 642.3,131.1 642.0,132.4 646.0,129.6 641.2,129.3 642.1,130.2 640.8,130.5" fill="#355f8d"/>
<polygon points="654.6,130.0 655.4,129.5 655.2,130.4 657.7,127.7 654.1,128.4 654.9,128.7 654.1,129.1" fill="#24a884"/>
<polygon points="663.2,138.6 665.7,135.6 666.1,136.8 667.9,132.1 663.7,134.8 664.9,135.0 662.4,138.0" fill="#2a788e"/>
<polygon points="672.6,132.9 673.8,132.2 673.9,133.4 677.1,129.6 672.2,130.7 673.3,131.3 672.1,132.1" fill="#bcde27"/>
<polygon points="598.5,143.6 606.3,138.2 606.5,139.4 609.5,135.4 604.6,136.8 605.8,137.4 598.0,142.7" fill="#482475"/>
<polygon points="611.7,143.1 620.2,137.4 620.3,138.7 623.4,134.7 618.5,136.0 619.6,136.6 611.1,142.3" fill="#481e6f"/>
<polygon points="627.9,143.2 631.3,141.8 631.2,143.1 635.1,139.8 630.0,140.1 631.0,140.9 627.6,142.2" fill="#21908c"/>
<polygon points="640.1,143.5 643.8,139.0 644.2,140.1 646.0,135.4 641.8,138.1 643.0,138.4 639.4,142.8" fill="#3f4a89"/>
<polygon points="648.1,143.2 649.0,143.4 648.2,143.9 651.9,143.7 648.9,141.7 649.3,142.5 648.3,142.2" fill="#31678d"/>
<polygon points="659.4,149.0 662.5,146.9 662.6,148.2 665.7,144.2 660.9,145.5 662.0,146.1 658.9,148.1" fill="#24a884"/>
<polygon points="674.9,149.5 675.8,148.1 676.4,149.1 677.4,144.2 673.7,147.6 674.9,147.6 674.1,149.0" fill="#9ad93d"/>
<polygon points="535.1,155.0 534.3,154.7 535.0,154.4 531.6,154.4 534.4,156.4 534.0,155.7 534.9,155.9" fill="#24a884"/>
<polygon points="546.6,154.9 542.0,155.4 542.5,154.2 537.9,156.3 542.9,157.4 542.1,156.4 546.7,155.9" fill="#21908c"/>
<circle cx="559.8" cy="155.9" r="0.7" fill="#2a788e"/>
<polygon points="569.1,156.3 569.9,156.0 569.6,156.7 572.1,154.4 568.7,154.8 569.5,155.1 568.7,155.4" fill="#31678d"/>
<polygon points="583.7,155.7 584.2,154.6 584.8,155.5 585.2,151.1 582.2,154.3 583.3,154.1 582.8,155.2" fill="#20a387"/>
<polygon points="530.0,169.4 530.7,169.0 530.5,169.7 532.4,167.1 529.3,168.1 530.1,168.1 529.4,168.6" fill="#24a884"/>
<polygon points="539.5,165.8 540.7,166.4 539.8,167.2 544.8,167.6 541.0,164.2 541.1,165.5 539.9,164.9" fill="#355f8d"/>
<polygon points="559.7,166.4 556.9,167.3 557.2,166.0 553.1,169.0 558.2,169.1 557.3,168.2 560.0,167.3" fill="#2a788e"/>
<polygon points="573.0,166.0 566.5,166.0 567.1,164.9 562.3,166.5 567.1,168.1 566.5,167.0 573.0,167.0" fill="#21908c"/>
<circle cx="582.3" cy="165.7" r="0.7" fill="#43be71"/>
<polygon points="531.4,177.3 530.3,177.9 530.4,176.8 527.2,180.0 531.7,179.4 530.8,178.8 531.9,178.2" fill="#482475"/>
<polygon points="545.3,178.8 535.1,177.7 535.8,176.7 530.9,177.8 535.5,179.9 535.0,178.7 545.2,179.7" fill="#238b8d"/>
<polygon points="557.8,177.3 555.1,177.9 555.4,176.7 551.1,179.2 556.1,179.8 555.3,178.9 558.0,178.3" fill="#355f8d"/>
<polygon points="572.7,178.1 569.3,176.5 570.3,175.8 565.2,175.3 569.0,178.7 568.9,177.5 572.3,179.0" fill="#27ac81"/>
<polygon points="578.9,176.3 580.7,177.3 579.7,178.0 584.7,178.8 581.2,175.2 581.2,176.4 579.4,175.4" fill="#c9e021"/>
<polygon points="598.7,154.2 607.7,150.6 607.5,151.8 611.4,148.6 606.3,148.9 607.3,149.7 598.4,153.2" fill="#21908c"/>
<polygon points="613.5,153.8 620.1,148.6 620.3,149.9 623.1,145.7 618.3,147.3 619.5,147.8 612.8,153.0" fill="#21908c"/>
<polygon points="625.4,155.9 634.2,151.4 634.1,152.6 637.7,149.0 632.7,149.8 633.7,150.5 624.9,155.0" fill="#31678d"/>
<polygon points="638.0,155.8 638.3,155.6 637.9,156.0 639.1,154.4 637.3,155.1 637.8,154.8 637.4,155.0" fill="#472b7a"/>
<polygon points="653.6,157.0 655.3,155.8 655.5,157.0 658.4,153.0 653.6,154.4 654.7,155.0 653.0,156.2" fill="#21908c"/>
<polygon points="664.1,154.4 664.6,154.2 664.1,154.6 666.0,153.0 663.5,153.3 664.2,153.3 663.6,153.5" fill="#2f6b8e"/>
<polygon points="676.2,155.9 676.6,159.8 675.4,159.3 677.4,163.9 678.6,159.0 677.5,159.7 677.2,155.8" fill="#20a387"/>
<polygon points="598.4,167.6 610.7,164.1 610.4,165.3 614.6,162.4 609.6,162.2 610.4,163.1 598.1,166.6" fill="#21908c"/>
<polygon points="613.8,165.9 618.4,166.6 617.6,167.6 622.6,166.8 618.2,164.5 618.6,165.7 614.0,164.9" fill="#21908c"/>
<polygon points="626.0,168.5 626.6,167.5 627.1,168.5 627.8,164.2 624.6,167.1 625.7,167.0 625.1,168.1" fill="#481e6f"/>
<polygon points="636.5,165.8 637.1,166.2 636.4,166.1 639.1,167.1 637.5,164.7 637.7,165.4 637.1,165.0" fill="#482475"/>
<circle cx="653.3" cy="165.7" r="0.7" fill="#2a788e"/>
<polygon points="664.2,169.4 664.9,168.6 665.0,169.5 666.5,166.1 663.2,168.0 664.1,168.0 663.5,168.7" fill="#482475"/>
<polygon points="670.8,177.1 676.5,170.6 676.9,171.8 678.9,167.1 674.5,169.7 675.7,170.0 670.0,176.4" fill="#9ad93d"/>
<polygon points="598.3,179.0 614.2,176.1 613.8,177.3 618.3,174.9 613.3,174.2 614.0,175.1 598.2,178.0" fill="#355f8d"/>
<polygon points="612.7,180.7 614.8,179.5 614.8,180.8 618.3,177.1 613.3,178.0 614.3,178.7 612.2,179.8" fill="#21908c"/>
<polygon points="625.7,180.8 626.4,180.6 625.9,181.1 628.5,179.7 625.5,179.4 626.2,179.6 625.5,179.8" fill="#24a884"/>
<circle cx="638.7" cy="179.3" r="0.7" fill="#2a788e"/>
<polygon points="648.2,171.4 649.7,174.6 648.4,174.5 651.9,178.2 651.3,173.2 650.6,174.2 649.1,171.0" fill="#355f8d"/>
<polygon points="662.4,183.6 664.6,181.6 664.9,182.9 667.5,178.5 662.8,180.5 664.0,180.9 661.8,182.8" fill="#21908c"/>
<polygon points="673.2,186.8 676.7,181.6 677.3,182.7 678.6,177.8 674.6,180.9 675.9,181.0 672.3,186.3" fill="#21908c"/>
<polygon points="521.5,189.9 514.6,196.5 514.3,195.2 511.9,199.7 516.5,197.6 515.3,197.2 522.2,190.6" fill="#c9e021"/>
<polygon points="534.6,189.4 531.9,189.3 532.6,188.2 527.7,189.5 532.4,191.4 531.9,190.3 534.5,190.4" fill="#1f958b"/>
<polygon points="546.2,191.9 540.6,192.2 541.2,191.0 536.5,192.9 541.3,194.2 540.7,193.2 546.3,192.9" fill="#31678d"/>
<polygon points="555.6,190.7 557.5,191.4 556.5,192.2 561.6,192.4 557.7,189.2 557.8,190.5 555.9,189.8" fill="#355f8d"/>
<polygon points="570.0,193.8 570.7,192.9 571.0,193.9 572.5,189.9 568.9,192.1 570.0,192.2 569.2,193.1" fill="#24a884"/>
<polygon points="581.9,190.2 582.2,190.6 581.8,190.2 583.5,191.7 582.8,189.5 583.0,190.1 582.7,189.7" fill="#1f958b"/>
<polygon points="585.2,203.4 585.2,197.3 586.3,197.9 584.7,193.2 583.1,197.9 584.2,197.3 584.2,203.4" fill="#3aba76"/>
<polygon points="532.4,201.1 524.1,201.3 524.7,200.2 520.0,201.9 524.8,203.4 524.2,202.3 532.4,202.1" fill="#433e84"/>
<polygon points="521.6,202.6 520.9,202.3 521.6,202.1 518.5,201.9 520.9,203.9 520.5,203.3 521.2,203.5" fill="#43be71"/>
<polygon points="538.1,201.2 541.3,202.1 540.5,203.0 545.5,202.6 541.3,199.9 541.6,201.1 538.3,200.3" fill="#2a788e"/>
<polygon points="554.3,198.2 556.4,199.8 555.3,200.4 560.1,201.9 557.2,197.8 557.0,199.0 554.9,197.4" fill="#3b528b"/>
<polygon points="572.6,202.9 560.7,201.3 561.4,200.2 556.5,201.2 561.0,203.4 560.6,202.2 572.5,203.9" fill="#30b37c"/>
<polygon points="512.1,217.3 514.3,216.4 514.2,217.6 518.0,214.3 513.0,214.7 514.0,215.4 511.7,216.4" fill="#21908c"/>
<polygon points="533.3,213.9 525.5,210.4 526.4,209.7 521.4,209.2 525.2,212.6 525.1,211.4 532.9,214.8" fill="#21908c"/>
<polygon points="545.5,212.8 542.1,213.1 542.6,211.9 537.9,213.9 542.8,215.1 542.1,214.1 545.5,213.8" fill="#24a884"/>
<polygon points="559.0,215.0 553.4,214.6 554.1,213.5 549.2,214.8 553.8,216.7 553.3,215.6 558.9,216.0" fill="#482475"/>
<polygon points="572.6,216.8 568.4,216.5 569.1,215.5 564.2,216.8 568.9,218.7 568.4,217.5 572.5,217.7" fill="#355f8d"/>
<polygon points="584.9,214.1 575.2,214.7 575.8,213.6 571.1,215.5 576.0,216.8 575.3,215.7 585.0,215.1" fill="#3aba76"/>
<polygon points="601.8,189.9 606.6,186.0 606.8,187.2 609.5,182.9 604.8,184.7 605.9,185.2 601.1,189.1" fill="#24a884"/>
<polygon points="613.4,190.4 622.4,186.3 622.3,187.5 626.0,184.1 621.0,184.6 622.0,185.4 612.9,189.5" fill="#481e6f"/>
<polygon points="638.0,191.3 638.8,192.1 637.8,192.3 641.6,193.9 639.5,190.3 639.4,191.3 638.6,190.6" fill="#21908c"/>
<polygon points="652.2,191.3 652.8,191.9 652.1,191.7 654.8,193.2 653.4,190.4 653.5,191.2 652.9,190.6" fill="#2f6b8e"/>
<polygon points="663.2,194.7 664.6,193.3 664.9,194.5 667.2,189.9 662.7,192.2 663.9,192.6 662.5,194.0" fill="#2a788e"/>
<polygon points="598.3,203.9 608.3,202.6 607.9,203.8 612.4,201.6 607.5,200.6 608.2,201.6 598.2,202.9" fill="#21908c"/>
<polygon points="610.2,202.6 615.1,199.2 615.3,200.4 618.3,196.4 613.4,197.8 614.5,198.4 609.6,201.8" fill="#2c738e"/>
<polygon points="628.2,204.8 629.2,202.7 630.0,203.7 630.7,198.7 627.1,202.3 628.4,202.2 627.3,204.3" fill="#481e6f"/>
<polygon points="641.5,202.2 638.1,203.3 638.4,202.1 634.3,205.1 639.4,205.1 638.5,204.2 641.8,203.1" fill="#31678d"/>
<circle cx="652.3" cy="203.1" r="0.7" fill="#43be71"/>
<polygon points="658.6,205.3 661.3,204.2 661.1,205.5 665.0,202.2 660.0,202.5 660.9,203.3 658.3,204.4" fill="#31678d"/>
<polygon points="598.4,214.4 608.5,211.9 608.1,213.1 612.4,210.4 607.4,210.0 608.2,210.9 598.1,213.4" fill="#24a884"/>
<polygon points="614.3,215.3 619.9,215.4 619.3,216.5 624.1,215.1 619.4,213.3 619.9,214.4 614.3,214.3" fill="#414487"/>
<polygon points="625.6,214.6 626.0,215.2 625.4,214.8 627.5,216.5 626.7,213.9 626.8,214.6 626.4,214.1" fill="#355f8d"/>
<polygon points="639.8,215.3 638.8,215.2 639.5,214.6 635.8,215.3 639.2,216.9 638.7,216.2 639.7,216.3" fill="#31678d"/>
<polygon points="650.1,214.7 650.6,215.1 650.0,214.9 652.3,215.8 650.8,213.8 651.2,214.3 650.7,213.9" fill="#2f6b8e"/>
<polygon points="661.8,221.9 664.0,218.2 664.6,219.3 665.7,214.3 661.9,217.6 663.2,217.7 660.9,221.4" fill="#27ac81"/>
<polygon points="515.6,225.0 516.9,224.9 516.4,226.0 520.7,223.9 516.1,222.9 516.8,223.9 515.5,224.0" fill="#fde725"/>
<polygon points="528.4,225.4 529.5,225.1 529.2,226.1 532.7,223.5 528.4,223.5 529.2,224.1 528.1,224.5" fill="#4dc26b"/>
<polygon points="543.0,228.9 543.7,228.1 543.9,229.1 545.5,225.4 542.0,227.4 543.0,227.5 542.2,228.3" fill="#43be71"/>
<polygon points="557.3,226.7 554.1,226.2 554.9,225.2 549.9,226.0 554.4,228.3 554.0,227.1 557.1,227.6" fill="#21908c"/>
<polygon points="572.2,226.7 563.1,223.8 564.0,223.0 559.0,223.1 563.1,226.0 562.8,224.8 572.0,227.6" fill="#2a788e"/>
<polygon points="584.3,227.4 579.0,226.6 579.7,225.6 574.7,226.4 579.2,228.7 578.8,227.6 584.2,228.4" fill="#24a884"/>
<polygon points="572.0,235.1 571.2,240.2 570.3,239.4 571.1,244.4 573.4,239.9 572.2,240.3 573.0,235.3" fill="#bcde27"/>
<polygon points="584.6,234.8 578.1,241.1 577.8,239.9 575.5,244.4 580.0,242.2 578.8,241.8 585.3,235.5" fill="#bcde27"/>
<polygon points="598.4,227.3 606.0,225.1 605.8,226.4 609.9,223.5 604.9,223.3 605.8,224.2 598.1,226.4" fill="#21908c"/>
<polygon points="612.0,227.8 612.9,227.1 613.0,228.2 615.3,224.5 611.3,226.0 612.3,226.3 611.4,227.0" fill="#482475"/>
<polygon points="626.3,226.8 627.0,226.2 627.0,227.0 628.8,223.9 625.5,225.4 626.4,225.4 625.7,226.0" fill="#355f8d"/>
<polygon points="635.9,231.1 636.7,230.0 637.2,231.1 638.7,226.4 634.7,229.2 635.9,229.4 635.1,230.5" fill="#355f8d"/>
<polygon points="649.3,232.6 650.3,231.4 650.7,232.6 652.6,227.9 648.3,230.5 649.5,230.8 648.6,231.9" fill="#2a788e"/>
<polygon points="663.5,227.0 662.0,231.1 661.2,230.1 661.1,235.2 664.2,231.2 663.0,231.4 664.5,227.3" fill="#aedc2f"/>
<polygon points="600.0,237.9 603.5,237.5 603.0,238.7 607.6,236.6 602.7,235.5 603.4,236.5 600.0,236.9" fill="#4dc26b"/>
<polygon points="612.7,239.3 616.7,240.9 615.7,241.7 620.8,242.1 616.9,238.8 617.0,240.0 613.0,238.4" fill="#24a884"/>
<polygon points="625.4,239.6 626.3,240.0 625.5,240.4 629.2,240.6 626.4,238.2 626.7,239.0 625.8,238.7" fill="#2c738e"/>
<circle cx="639.4" cy="238.5" r="0.7" fill="#482475"/>
<polygon points="650.1,240.6 650.6,239.9 650.7,240.7 651.9,237.4 649.0,239.4 649.8,239.3 649.3,240.0" fill="#2a788e"/></g>
<path d="M449.40 285.4v-3.3M449.40 12.4v3.3M508.15 285.4v-3.3M508.15 12.4v3.3M566.90 285.4v-3.3M566.90 12.4v3.3M625.65 285.4v-3.3M625.65 12.4v3.3M684.40 285.4v-3.3M684.40 12.4v3.3M444.7 12.40h3.3M713.9 12.40h-3.3M444.7 46.52h3.3M713.9 46.52h-3.3M444.7 80.65h3.3M713.9 80.65h-3.3M444.7 114.78h3.3M713.9 114.78h-3.3M444.7 148.90h3.3M713.9 148.90h-3.3M444.7 183.03h3.3M713.9 183.03h-3.3M444.7 217.15h3.3M713.9 217.15h-3.3M444.7 251.28h3.3M713.9 251.28h-3.3M444.7 285.40h3.3M713.9 285.40h-3.3" stroke="#000" stroke-width="0.6" fill="none"/>
<rect x="444.7" y="12.4" width="269.2" height="273.00" fill="none" stroke="#000" stroke-width="1"/>
<text x="440.4" y="15.80" font-size="10.8" text-anchor="end" textLength="30.6" lengthAdjust="spacingAndGlyphs">−0.01</text>
<text x="440.4" y="49.92" font-size="10.8" text-anchor="end" textLength="30.6" lengthAdjust="spacingAndGlyphs">−0.02</text>
<text x="440.4" y="84.05" font-size="10.8" text-anchor="end" textLength="30.6" lengthAdjust="spacingAndGlyphs">−0.03</text>
<text x="440.4" y="118.18" font-size="10.8" text-anchor="end" textLength="30.6" lengthAdjust="spacingAndGlyphs">−0.04</text>
<text x="440.4" y="152.30" font-size="10.8" text-anchor="end" textLength="30.6" lengthAdjust="spacingAndGlyphs">−0.05</text>
<text x="440.4" y="186.43" font-size="10.8" text-anchor="end" textLength="30.6" lengthAdjust="spacingAndGlyphs">−0.06</text>
<text x="440.4" y="220.55" font-size="10.8" text-anchor="end" textLength="30.6" lengthAdjust="spacingAndGlyphs">−0.07</text>
<text x="440.4" y="254.68" font-size="10.8" text-anchor="end" textLength="30.6" lengthAdjust="spacingAndGlyphs">−0.08</text>
<text x="440.4" y="288.80" font-size="10.8" text-anchor="end" textLength="30.6" lengthAdjust="spacingAndGlyphs">−0.09</text>
<text x="449.40" y="297.30" font-size="10.8" text-anchor="middle" textLength="22.2" lengthAdjust="spacingAndGlyphs">0.10</text>
<text x="508.15" y="297.30" font-size="10.8" text-anchor="middle" textLength="22.2" lengthAdjust="spacingAndGlyphs">0.08</text>
<text x="566.90" y="297.30" font-size="10.8" text-anchor="middle" textLength="22.2" lengthAdjust="spacingAndGlyphs">0.06</text>
<text x="625.65" y="297.30" font-size="10.8" text-anchor="middle" textLength="22.2" lengthAdjust="spacingAndGlyphs">0.04</text>
<text x="684.40" y="297.30" font-size="10.8" text-anchor="middle" textLength="22.2" lengthAdjust="spacingAndGlyphs">0.02</text>
<text x="445.3" y="10.3" font-size="10.8" text-anchor="start" textLength="49.6" lengthAdjust="spacingAndGlyphs">−2.915e1</text>
<text x="713.9" y="310.4" font-size="10.8" text-anchor="end" textLength="50.2" lengthAdjust="spacingAndGlyphs">+2.697e2</text>
<rect x="529.6" y="14.6" width="181.80" height="18.30" fill="#fff" stroke="#000" stroke-width="0.9"/>
<text x="533.6" y="28.0" font-size="13.7" text-anchor="start" textLength="174.4" lengthAdjust="spacingAndGlyphs">BTSv2 offsets from Gaia DR1</text>
<path d="M456.5 276.75H469.4L468.7 275.6L474 277.3L468.7 279.0L469.4 277.85H456.5Z" fill="#000"/>
<text x="480.5" y="280.8" font-size="11.5" text-anchor="start" textLength="107" lengthAdjust="spacingAndGlyphs">0.15" (5 drizzled pix)</text>
<text class="m" x="578.2" y="312.3" font-size="10.5" text-anchor="middle" textLength="93.5" lengthAdjust="spacingAndGlyphs"><tspan font-style="italic">α</tspan>(<tspan font-style="italic">BTSv</tspan>2) − 0. 128"</text>
<text class="m" transform="translate(402.2,148.8) rotate(-90)" font-size="12" text-anchor="middle" textLength="92" lengthAdjust="spacingAndGlyphs"><tspan font-style="italic">δ</tspan>(<tspan font-style="italic">BTSv</tspan>2) + 0. 212"</text>
<rect x="730.4" y="12.4" width="14.40" height="273.00" fill="url(#vg)" stroke="#000" stroke-width="0.7"/>
<text x="748.3" y="269.40" font-size="10.8" text-anchor="start" textLength="12.5" lengthAdjust="spacingAndGlyphs">15</text>
<text x="748.3" y="237.70" font-size="10.8" text-anchor="start" textLength="12.5" lengthAdjust="spacingAndGlyphs">20</text>
<text x="748.3" y="206.00" font-size="10.8" text-anchor="start" textLength="12.5" lengthAdjust="spacingAndGlyphs">25</text>
<text x="748.3" y="174.30" font-size="10.8" text-anchor="start" textLength="12.5" lengthAdjust="spacingAndGlyphs">30</text>
<text x="748.3" y="142.60" font-size="10.8" text-anchor="start" textLength="12.5" lengthAdjust="spacingAndGlyphs">35</text>
<text x="748.3" y="110.90" font-size="10.8" text-anchor="start" textLength="12.5" lengthAdjust="spacingAndGlyphs">40</text>
<text x="748.3" y="79.20" font-size="10.8" text-anchor="start" textLength="12.5" lengthAdjust="spacingAndGlyphs">45</text>
<text x="748.3" y="47.50" font-size="10.8" text-anchor="start" textLength="12.5" lengthAdjust="spacingAndGlyphs">50</text>
<text x="748.3" y="15.80" font-size="10.8" text-anchor="start" textLength="12.5" lengthAdjust="spacingAndGlyphs">55</text>
<path d="M744.8 266.00h-3M744.8 234.30h-3M744.8 202.60h-3M744.8 170.90h-3M744.8 139.20h-3M744.8 107.50h-3M744.8 75.80h-3M744.8 44.10h-3M744.8 12.40h-3" stroke="#000" stroke-width="0.6" fill="none"/>
</svg></body></html>
